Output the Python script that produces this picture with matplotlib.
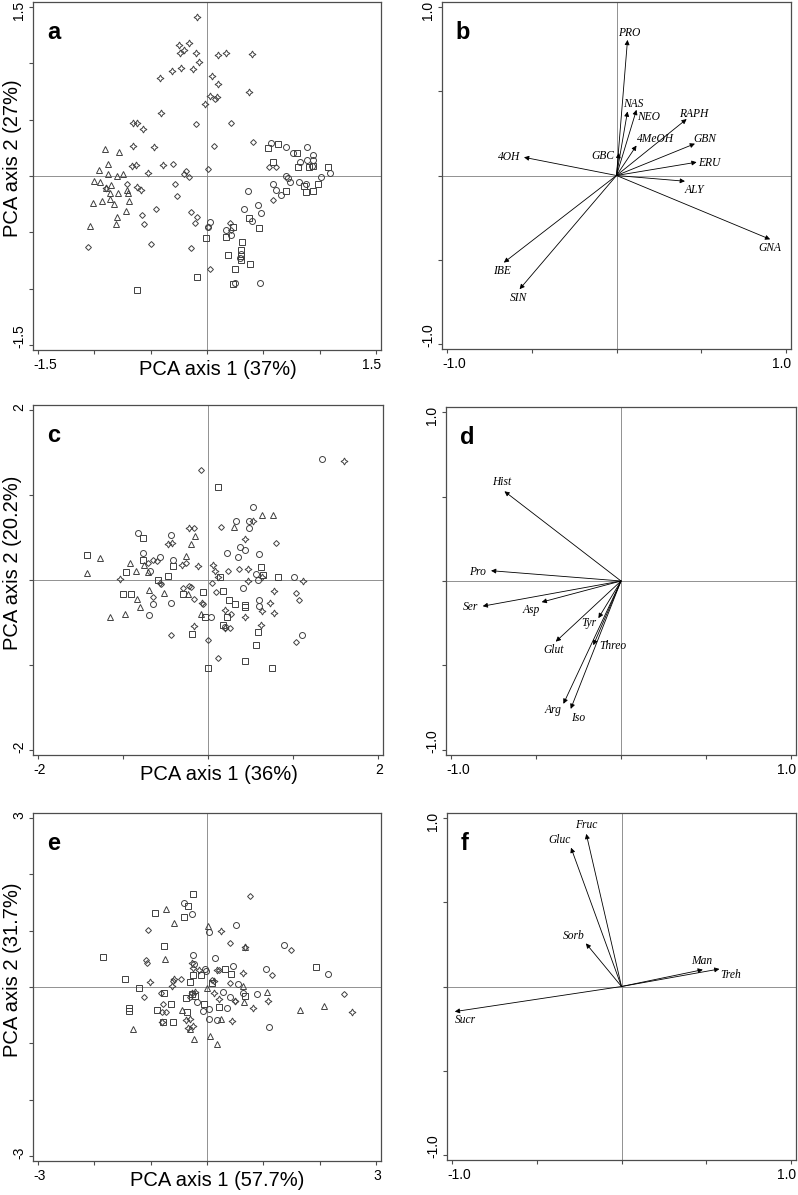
import numpy as np
import matplotlib.pyplot as plt

plt.rcParams['font.family'] = ['Liberation Sans', 'DejaVu Sans']

# ---------------- panel a : scores, glucosinolates ----------------
a_star_x = [-0.09, -0.25, -0.16, -0.20, -0.24, -0.10, -0.07, -0.23, -0.31, -0.12, -0.42, 0.10, 0.17, 0.40,
            0.04, 0.10, 0.37, 0.03, 0.09, -0.02, -0.41, -0.66, -0.62, -0.57, -0.66, -0.47, -0.39, -0.63,
            -0.67, -0.52, -0.62, -0.59, -0.90]
a_star_y = [1.41, 1.16, 1.18, 1.12, 1.09, 1.09, 1.01, 0.96, 0.93, 0.95, 0.87, 1.07, 1.09, 1.08,
            0.89, 0.82, 0.75, 0.71, 0.70, 0.64, 0.56, 0.47, 0.47, 0.42, 0.27, 0.26, 0.10, 0.10,
            0.09, 0.03, -0.10, -0.12, -0.11]
a_diam_x = [-0.10, 0.21, 0.06, 0.41, -0.30, -0.19, -0.20, -0.16, 0.01, -0.28, -0.27, 0.55, 0.61, 0.59,
            -0.71, -0.58, -0.56, -0.45, -0.14, -0.09, -0.11, 0.01, 0.20, 0.21, -1.06, -0.50, -0.14, 0.03, 0.07]
a_diam_y = [0.46, 0.47, 0.27, 0.30, 0.11, 0.04, 0.02, -0.01, 0.06, -0.07, -0.18, 0.08, 0.08, -0.21,
            -0.07, -0.35, -0.43, -0.29, -0.32, -0.36, -0.42, -0.45, -0.42, -0.48, -0.63, -0.60, -0.64, -0.83, 0.68]
a_tri_x = [-0.91, -0.78, -0.88, -0.96, -0.88, -0.80, -0.75, -1.00, -0.95, -0.85, -0.90, -0.86, -0.79,
           -0.70, -0.71, -0.86, -1.01, -0.93, -0.83, -0.69, -0.72, -0.80, -1.04, -0.81]
a_tri_y = [0.24, 0.21, 0.11, 0.05, 0.02, 0.00, 0.02, -0.04, -0.05, -0.08, -0.11, -0.15, -0.15,
           -0.15, -0.12, -0.20, -0.24, -0.22, -0.25, -0.22, -0.31, -0.36, -0.44, -0.43]
a_circ_x = [0.57, 0.70, 0.76, 0.89, 0.94, 0.83, 0.89, 0.94, 0.93, 1.01, 1.09, 0.70, 0.72, 0.74, 0.82,
            0.88, 0.59, 0.61, 0.66, 0.36, 0.45, 0.48, 0.33, 0.40, 0.03, 0.01, 0.17, 0.21, 0.25, 0.47,
            0.30, 0.29]
a_circ_y = [0.29, 0.26, 0.20, 0.26, 0.19, 0.12, 0.14, 0.14, 0.09, -0.01, 0.03, 0.00, -0.02, -0.05, -0.05,
            -0.07, -0.07, -0.12, -0.17, -0.13, -0.26, -0.33, -0.29, -0.40, -0.41, -0.45, -0.48, -0.52, -0.95, -0.95,
            -0.69, -0.73]
a_sq_x = [0.54, 0.63, 0.80, 0.59, 0.81, 0.91, 1.07, 0.94, 0.99, 0.86, 0.88, 0.94, 0.70, 0.37, 0.46,
          0.23, 0.17, -0.01, 0.31, 0.30, 0.19, 0.30, 0.30, 0.38, 0.25, -0.09, 0.23, -0.62]
a_sq_y = [0.25, 0.28, 0.20, 0.12, 0.08, 0.08, 0.08, 0.09, -0.07, -0.09, -0.14, -0.13, -0.13, -0.37, -0.46,
          -0.45, -0.54, -0.55, -0.59, -0.66, -0.70, -0.71, -0.75, -0.78, -0.83, -0.90, -0.96, -1.01]

# ---------------- panel b : loadings, glucosinolates ----------------
b_names = ['PRO', 'NAS', 'NEO', '4MeOH', 'RAPH', 'GBN', 'ERU', 'ALY', 'GNA', 'GBC', '4OH', 'IBE', 'SIN']
b_x = [0.065, 0.065, 0.118, 0.118, 0.414, 0.463, 0.473, 0.404, 0.907, 0.014, -0.546, -0.665, -0.572]
b_y = [0.805, 0.380, 0.390, 0.178, 0.335, 0.189, 0.079, -0.034, -0.379, 0.134, 0.108, -0.517, -0.675]

# ---------------- panel c : scores, amino acids ----------------
c_circ_x = [1.34, 0.53, 0.33, 0.48, 0.48, -0.82, -0.44, -0.76, -0.41, -0.56, 0.22, 0.35, 0.38, 0.44,
            0.60, -0.68, 0.57, 0.59, 0.41, 0.60, 0.60, -0.65, -0.44, -0.69, 0.04, 1.01, 1.11, 0.20]
c_circ_y = [1.43, 0.86, 0.69, 0.69, 0.61, 0.55, 0.53, 0.32, 0.24, 0.27, 0.32, 0.27, 0.39, 0.35,
            0.31, 0.11, 0.07, 0.00, -0.10, -0.24, -0.31, -0.28, -0.27, -0.41, -0.44, 0.03, -0.65, -0.55]
c_sq_x = [0.12, -0.76, -1.42, -0.76, -0.41, -0.97, -0.59, -0.47, 0.14, 0.62, 0.65, 0.82, -1.00, -0.91,
          -0.06, -0.29, 0.18, 0.25, 0.32, 0.43, 0.44, 0.22, -0.03, 0.18, -0.19, 0.59, 0.56, 0.44, 0.00, 0.75]
c_sq_y = [1.09, 0.49, 0.30, 0.24, 0.16, 0.09, 0.00, 0.05, 0.04, 0.15, 0.06, 0.03, -0.16, -0.16,
          -0.14, -0.16, -0.13, -0.24, -0.28, -0.30, -0.32, -0.44, -0.44, -0.53, -0.64, -0.61, -0.76, -0.95, -1.03, -1.03]
c_diam_x = [-0.08, 0.15, -0.17, 0.80, -0.65, -0.60, 0.36, 0.24, -0.26, -0.71, -0.55, -0.22, 0.05, 0.09,
            -0.20, -0.30, -0.65, -0.16, -0.06, 0.27, 0.26, 1.03, 1.07, 1.03, -0.44, 0.00, 0.12]
c_diam_y = [1.29, 0.62, 0.61, 0.44, 0.24, 0.22, 0.13, 0.11, 0.20, 0.20, -0.05, -0.07, -0.03, -0.14,
            -0.08, -0.10, -0.20, -0.22, -0.28, -0.40, -0.57, -0.15, -0.23, -0.73, -0.65, -0.71, -0.92]
c_tri_x = [0.63, 0.76, 0.31, -0.15, -0.20, -1.27, -0.92, -0.26, -0.85, -1.43, -0.75, -0.71, -0.70, -0.52,
           -0.84, -0.80, -1.15, -0.98, -0.08, -0.24]
c_tri_y = [0.77, 0.77, 0.62, 0.52, 0.42, 0.26, 0.20, 0.28, 0.11, 0.08, 0.18, 0.10, -0.12, -0.15,
           -0.22, -0.32, -0.44, -0.40, -0.40, -0.16]
c_star_x = [0.53, -0.22, -0.42, -0.47, -0.31, -0.12, 0.06, 0.08, 0.12, 0.44, 0.47, 0.47, 0.64, 0.78,
            0.73, 0.63, 0.78, 0.43, 0.62, -0.17, 0.20, -1.04, -0.56, 1.60, 1.12, -0.07, 0.20]
c_star_y = [0.69, 0.61, 0.43, 0.42, 0.18, 0.17, 0.18, 0.11, 0.04, 0.48, 0.13, -0.01, 0.04, -0.13,
            -0.27, -0.37, -0.39, -0.44, -0.53, -0.54, -0.57, 0.01, -0.03, 1.40, -0.01, -0.27, -0.35]

# ---------------- panel d : loadings, amino acids ----------------
d_names = ['Hist', 'Pro', 'Ser', 'Asp', 'Tyr', 'Glut', 'Threo', 'Arg', 'Iso']
d_x = [-0.686, -0.765, -0.814, -0.467, -0.133, -0.384, -0.163, -0.339, -0.296]
d_y = [0.531, 0.061, -0.149, -0.125, -0.220, -0.359, -0.380, -0.727, -0.757]

# ---------------- panel e : scores, sugars ----------------
e_sq_x = [-0.25, -0.33, -0.41, -0.93, -0.76, -1.85, -1.45, -1.20, -1.39, -1.38, -0.88, -0.64, -0.79,
          -0.60, -0.36, -0.38, -0.30, -0.25, -0.11, 0.08, -0.26, -0.22, -0.06, 0.22, 0.32, 0.42, 0.68,
          1.94, -0.76]
e_sq_y = [1.65, 1.43, 1.24, 1.31, 0.73, 0.53, 0.14, -0.02, -0.38, -0.42, -0.41, -0.30, -0.62,
          -0.63, -0.45, -0.19, 0.09, 0.21, 0.22, 0.07, -0.12, -0.16, -0.31, -0.35, 0.32, 0.23, -0.16,
          0.35, -0.10]
e_circ_x = [-0.40, -0.27, 0.51, 0.04, -0.25, -0.23, 0.15, 0.46, -0.04, -0.01, 0.55, 0.29, 0.40,
            0.64, 0.88, 1.05, 1.36, 2.14, 1.10, 0.36, 0.04, -0.17, 0.03, 0.17, -0.07]
e_circ_y = [1.49, 1.30, 1.10, 0.98, 0.57, 0.40, 0.51, 0.37, 0.32, 0.28, 0.06, -0.08, -0.18,
            -0.11, -0.13, 0.32, 0.74, 0.23, -0.71, -0.38, -0.39, -0.27, -0.56, -0.58, -0.43]
e_diam_x = [0.76, -1.05, 0.41, 1.50, -1.09, -1.06, -0.47, -0.61, -1.12, -0.81, -0.78, -0.80, -0.30,
            1.16, 2.43, 0.40, 0.09, 0.21, -0.73, 0.49]
e_diam_y = [1.62, 1.01, 0.78, 0.65, 0.48, 0.42, 0.14, 0.10, -0.17, -0.11, -0.30, -0.45, -0.17,
            0.21, -0.12, 0.07, 0.12, 0.31, -0.44, -0.25]
e_tri_x = [-0.73, -0.59, 0.01, -0.75, 0.68, 0.00, 1.07, 1.66, 2.08, -1.32, -0.23, 0.06, 0.18,
           -0.45, -0.31, 0.24, 0.66, 0.64]
e_tri_y = [1.38, 1.14, 1.09, 0.50, 0.71, -0.02, -0.09, -0.41, -0.34, -0.74, -0.92, -0.87, -1.02,
           -0.40, -0.75, -0.57, -0.27, 0.01]
e_star_x = [0.24, 0.68, -0.27, -0.14, 0.18, 0.64, -1.01, -0.63, -0.58, -0.21, -0.27, 0.22, 0.50,
            0.81, 1.09, 2.58, 0.44, -0.37, -0.30, -0.25, -0.34, -0.80, 0.12, -0.25, 0.12]
e_star_y = [1.00, 0.71, 0.42, 0.31, 0.30, 0.24, 0.09, 0.01, 0.14, -0.09, -0.11, -0.21, -0.25,
            -0.37, -0.24, -0.44, -0.61, -0.59, -0.57, -0.70, -0.73, -0.63, 0.11, 0.34, -0.11]

# ---------------- panel f : loadings, sugars ----------------
f_names = ['Fruc', 'Gluc', 'Sorb', 'Man', 'Treh', 'Sucr']
f_x = [-0.208, -0.298, -0.210, 0.480, 0.578, -0.984]
f_y = [0.906, 0.824, 0.256, 0.100, 0.104, -0.149]

# label offsets (points) for the loading arrows
b_offsets = {'PRO': (1, 5), 'NAS': (4, 5.5), 'NEO': (9, -5), '4MeOH': (14, 4.8), 'RAPH': (5, 4),
             'GBN': (7, 3.4), 'ERU': (9, -0.5), 'ALY': (7, -6), 'GNA': (0, -6), 'GBC': (-11.5, -2.4),
             '4OH': (-10.5, 0), 'IBE': (-1, -6), 'SIN': (-0.5, -6)}
d_offsets = {'Hist': (-2, 7), 'Pro': (-9.5, -1), 'Ser': (-9, -0.7), 'Asp': (-7.7, -5.8),
             'Tyr': (-7, -3.4), 'Glut': (-1.7, -6), 'Threo': (14, -0.5), 'Arg': (-7.2, -4.3),
             'Iso': (5.5, -6.5)}
f_offsets = {'Fruc': (0, 6.7), 'Gluc': (-8.6, 5.5), 'Sorb': (-9, 5.5), 'Man': (-0.7, 6),
             'Treh': (8, -4), 'Sucr': (8, -6)}

W, H = 798, 1195
fig = plt.figure(figsize=(W / 100, H / 100), dpi=100)


def make_ax(l, r, t, b):
    return fig.add_axes([l / W, 1 - b / H, (r - l) / W, (b - t) / H])


def frame(ax, ext, step, lab_lo, lab_hi, letter):
    lim = ext * 1.03
    ax.set_xlim(-lim, lim)
    ax.set_ylim(-lim, lim)
    ticks = np.arange(-ext, ext + step / 2, step)
    ax.set_xticks(ticks)
    ax.set_yticks(ticks)
    ax.set_xticklabels([])
    ax.set_yticklabels([])
    ax.tick_params(direction='out', length=3, width=0.8, color='0.3')
    for s in ax.spines.values():
        s.set_color('0.3')
        s.set_linewidth(0.9)
    # end labels sit flush with the frame edges
    kw = dict(xycoords='axes fraction', textcoords='offset points', fontsize=10)
    ax.annotate(lab_lo, xy=(0, 0), xytext=(0, -5.5), ha='left', va='top', **kw)
    ax.annotate(lab_hi, xy=(1, 0), xytext=(0, -5.5), ha='right', va='top', **kw)
    ax.annotate(lab_lo, xy=(0, 0), xytext=(-5, 1.5), ha='right', va='bottom', rotation=90, **kw)
    ax.annotate(lab_hi, xy=(0, 1), xytext=(-5, 1), ha='right', va='top', rotation=90, **kw)
    ax.axhline(0, color='0.5', lw=0.6, zorder=1)
    ax.axvline(0, color='0.5', lw=0.6, zorder=1)
    ax.text(0.04, 0.894, letter, transform=ax.transAxes, fontsize=17, fontweight='bold',
            ha='left', va='baseline')


def scores(ax, groups, xlab, ylab):
    styles = {'circle': ('o', 4.3), 'square': ('s', 4.0), 'diamond': ('D', 3.0),
              'triangle': ('^', 3.8), 'star': ((4, 1, 0), 5.0)}
    for kind, xs, ys in groups:
        m, ms = styles[kind]
        ax.plot(xs, ys, ls='none', marker=m, ms=ms, mfc='none', mec='0.25', mew=0.7, zorder=3)
    ax.text(0.53, -0.055, xlab, transform=ax.transAxes, fontsize=14.5, ha='center', va='center')
    ax.text(-0.058, 0.55, ylab, transform=ax.transAxes, fontsize=14.5, ha='center', va='center',
            rotation=90)


def loadings(ax, names, xs, ys, offsets):
    for n, x, y in zip(names, xs, ys):
        ax.annotate('', xy=(x, y), xytext=(0, 0),
                    arrowprops=dict(arrowstyle='-|>', color='black', lw=0.6, shrinkA=0, shrinkB=0,
                                    mutation_scale=7))
        ax.annotate(n, xy=(x, y), xytext=offsets[n], textcoords='offset points', ha='center',
                    va='center', fontsize=8.3, style='italic',
                    family=['Liberation Serif', 'DejaVu Serif'])


ax_a = make_ax(33, 381, 2, 350)
frame(ax_a, 1.5, 0.5, '-1.5', '1.5', 'a')
scores(ax_a, [('triangle', a_tri_x, a_tri_y), ('diamond', a_diam_x, a_diam_y),
              ('star', a_star_x, a_star_y), ('circle', a_circ_x, a_circ_y),
              ('square', a_sq_x, a_sq_y)], 'PCA axis 1 (37%)', 'PCA axis 2 (27%)')

ax_b = make_ax(442, 791, 2, 349)
frame(ax_b, 1.0, 0.5, '-1.0', '1.0', 'b')
loadings(ax_b, b_names, b_x, b_y, b_offsets)

ax_c = make_ax(33, 383, 405, 755)
frame(ax_c, 2, 1, '-2', '2', 'c')
scores(ax_c, [('triangle', c_tri_x, c_tri_y), ('diamond', c_diam_x, c_diam_y),
              ('star', c_star_x, c_star_y), ('circle', c_circ_x, c_circ_y),
              ('square', c_sq_x, c_sq_y)], 'PCA axis 1 (36%)', 'PCA axis 2 (20.2%)')

ax_d = make_ax(446, 796, 407, 755)
frame(ax_d, 1.0, 0.5, '-1.0', '1.0', 'd')
loadings(ax_d, d_names, d_x, d_y, d_offsets)

ax_e = make_ax(33, 381, 813, 1161)
frame(ax_e, 3, 1, '-3', '3', 'e')
scores(ax_e, [('triangle', e_tri_x, e_tri_y), ('diamond', e_diam_x, e_diam_y),
              ('star', e_star_x, e_star_y), ('circle', e_circ_x, e_circ_y),
              ('square', e_sq_x, e_sq_y)], 'PCA axis 1 (57.7%)', 'PCA axis 2 (31.7%)')

ax_f = make_ax(447, 796, 813, 1160)
frame(ax_f, 1.0, 0.5, '-1.0', '1.0', 'f')
loadings(ax_f, f_names, f_x, f_y, f_offsets)

fig.savefig('out.png', dpi=100)
